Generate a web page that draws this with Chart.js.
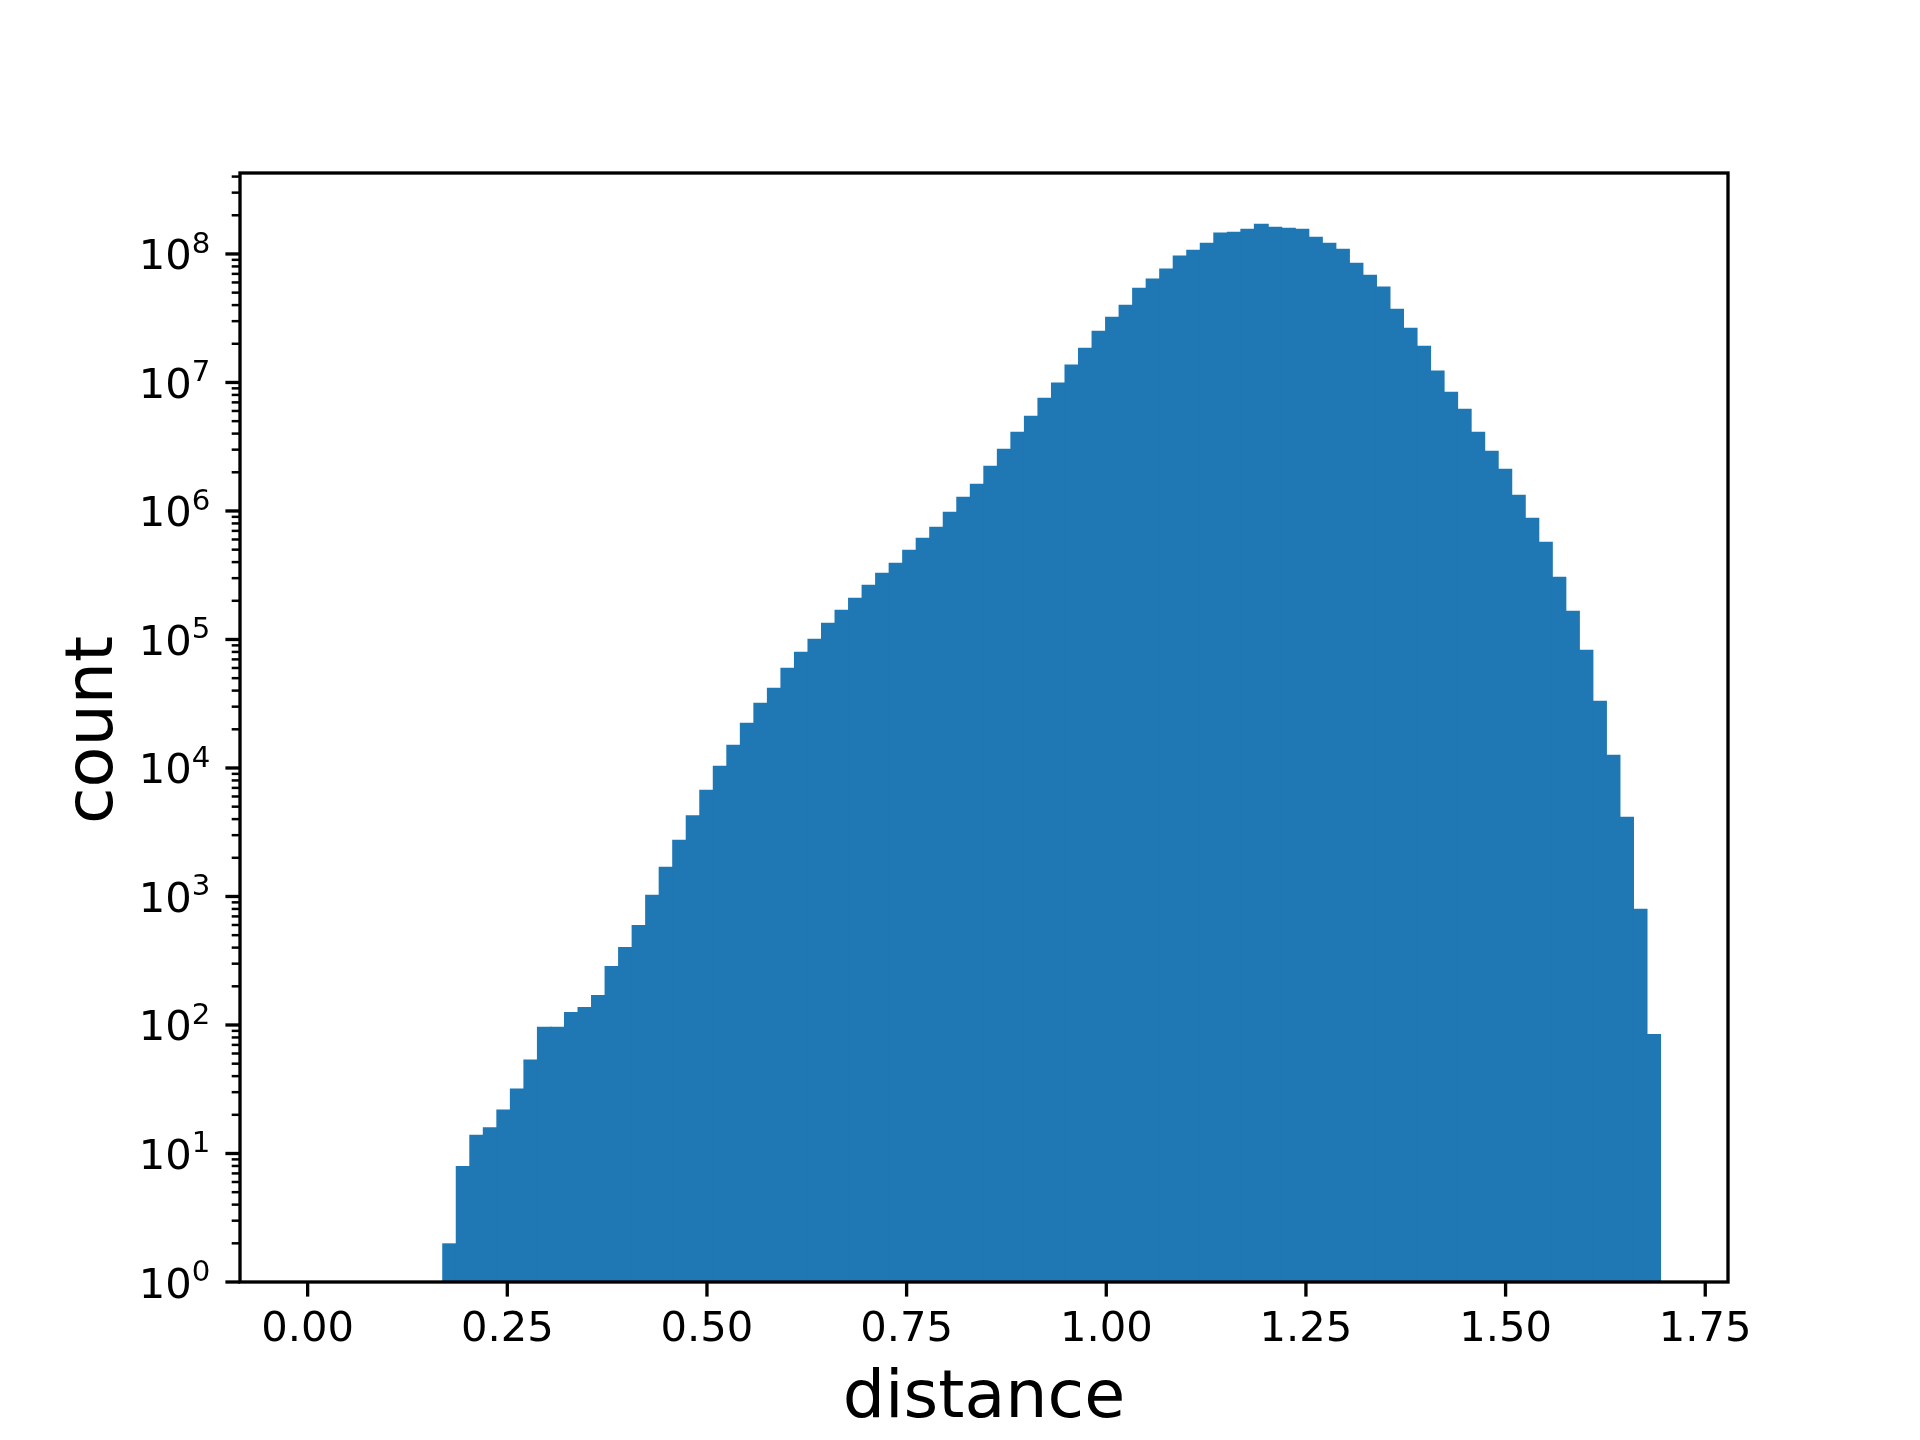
<!DOCTYPE html>
<html>
<head>
<meta charset="utf-8">
<script src="https://cdn.jsdelivr.net/npm/chart.js@4.4.1/dist/chart.umd.min.js"></script>
<style>
  html, body { margin: 0; padding: 0; background: #fff; }
  #hist { display: block; }
</style>
</head>
<body>
<canvas id="hist" width="1920" height="1440" style="width:1920px;height:1440px"></canvas>
<script>
// histogram: 100 equal bins over histRange, counts
const histRange = [0, 1.6938];
const counts = [
  0, 0, 0, 0, 0, 0, 0, 0, 0, 0,
  2, 8, 14, 16, 22, 32, 54, 97, 97, 126,
  138, 171, 288, 405, 601, 1030, 1700, 2760, 4280, 6760,
  10400, 15150, 22480, 32150, 42060, 60200, 80200, 101200, 134900, 170300,
  211300, 266700, 330500, 395300, 499000, 619000, 754000, 986000, 1290000, 1630000,
  2250000, 3050000, 4140000, 5510000, 7600000, 10000000, 13800000, 18600000, 25300000, 32500000,
  40300000, 54700000, 64300000, 76900000, 97100000, 108000000, 122000000, 147000000, 149000000, 157000000,
  172000000, 163000000, 160000000, 157000000, 136000000, 122000000, 110000000, 85600000, 69000000, 55700000,
  37500000, 26700000, 19300000, 12400000, 8480000, 6250000, 4140000, 2940000, 2130000, 1340000,
  886000, 576000, 308000, 167000, 83100, 33300, 12700, 4170, 801, 85
];

const xTicks = [0, 0.25, 0.5, 0.75, 1.0, 1.25, 1.5, 1.75];
const xTickLabels = ['0.00', '0.25', '0.50', '0.75', '1.00', '1.25', '1.50', '1.75'];
const yTickExponents = [0, 1, 2, 3, 4, 5, 6, 7, 8];
const xTitle = 'distance';
const yTitle = 'count';

const binWidth = (histRange[1] - histRange[0]) / counts.length;
const points = counts.map((c, i) => ({ x: histRange[0] + (i + 0.5) * binWidth, y: c }));

// matplotlib-like limits (5% margin on x)
const span = histRange[1] - histRange[0];
const xMin = histRange[0] - 0.05 * span;
const xMax = histRange[1] + 0.05 * span;
const yMin = 1;
const yMax = Math.pow(10, 8.63);

const FONT = '"DejaVu Sans", "Liberation Sans", sans-serif';
const TICK_PX = 41.67;
const SUP_PX = 29.2;
const LABEL_PX = 66.67;
const MAJOR = 14.6, MINOR = 8.3;

function seg(ctx, x1, y1, x2, y2) {
  ctx.beginPath();
  ctx.moveTo(x1, y1);
  ctx.lineTo(x2, y2);
  ctx.stroke();
}

const mplAxes = {
  id: 'mplAxes',
  afterDatasetsDraw(chart) {
    const { ctx, chartArea: a } = chart;
    const xs = chart.scales.x, ys = chart.scales.y;
    ctx.save();
    ctx.strokeStyle = '#000';
    ctx.fillStyle = '#000';

    // y minor ticks
    ctx.lineWidth = 2.5;
    yTickExponents.forEach(e => {
      for (let m = 2; m <= 9; m++) {
        const v = m * Math.pow(10, e);
        if (v > ys.max) break;
        const py = ys.getPixelForValue(v);
        seg(ctx, a.left - MINOR, py, a.left, py);
      }
    });

    // y major ticks + labels (10^n)
    ctx.lineWidth = 3.33;
    yTickExponents.forEach(e => {
      const py = ys.getPixelForValue(Math.pow(10, e));
      seg(ctx, a.left - MAJOR, py, a.left, py);
      const right = a.left - MAJOR - 15;
      const base = py + 15.5;
      ctx.font = SUP_PX + 'px ' + FONT;
      const expStr = String(e);
      const wExp = ctx.measureText(expStr).width;
      ctx.textAlign = 'left';
      ctx.textBaseline = 'alphabetic';
      ctx.fillText(expStr, right - wExp, base - 16.7);
      ctx.font = TICK_PX + 'px ' + FONT;
      const wBase = ctx.measureText('10').width;
      ctx.fillText('10', right - wExp - wBase, base);
    });

    // x ticks + labels
    ctx.font = TICK_PX + 'px ' + FONT;
    ctx.textAlign = 'center';
    ctx.textBaseline = 'alphabetic';
    xTicks.forEach((t, i) => {
      const px = xs.getPixelForValue(t);
      seg(ctx, px, a.bottom, px, a.bottom + MAJOR);
      ctx.fillText(xTickLabels[i], px, 1341);
    });

    // spines
    ctx.lineWidth = 3.33;
    ctx.strokeRect(a.left, a.top, a.right - a.left, a.bottom - a.top);

    // axis titles
    ctx.font = LABEL_PX + 'px ' + FONT;
    ctx.textAlign = 'center';
    ctx.fillText(xTitle, (a.left + a.right) / 2, 1417);
    ctx.save();
    ctx.translate(112, 730);
    ctx.rotate(-Math.PI / 2);
    ctx.fillText(yTitle, 0, 0);
    ctx.restore();

    ctx.restore();
  }
};

new Chart(document.getElementById('hist'), {
  type: 'bar',
  data: {
    datasets: [{
      data: points,
      backgroundColor: '#1f77b4',
      borderWidth: 0,
      barPercentage: 1.1,
      categoryPercentage: 1.0
    }]
  },
  options: {
    responsive: false,
    animation: false,
    events: [],
    layout: { padding: { left: 240, right: 192, top: 173, bottom: 158 } },
    plugins: { legend: { display: false }, tooltip: { enabled: false } },
    scales: {
      x: { type: 'linear', min: xMin, max: xMax, offset: false, display: false },
      y: { type: 'logarithmic', min: yMin, max: yMax, display: false }
    }
  },
  plugins: [mplAxes]
});
</script>
</body>
</html>
